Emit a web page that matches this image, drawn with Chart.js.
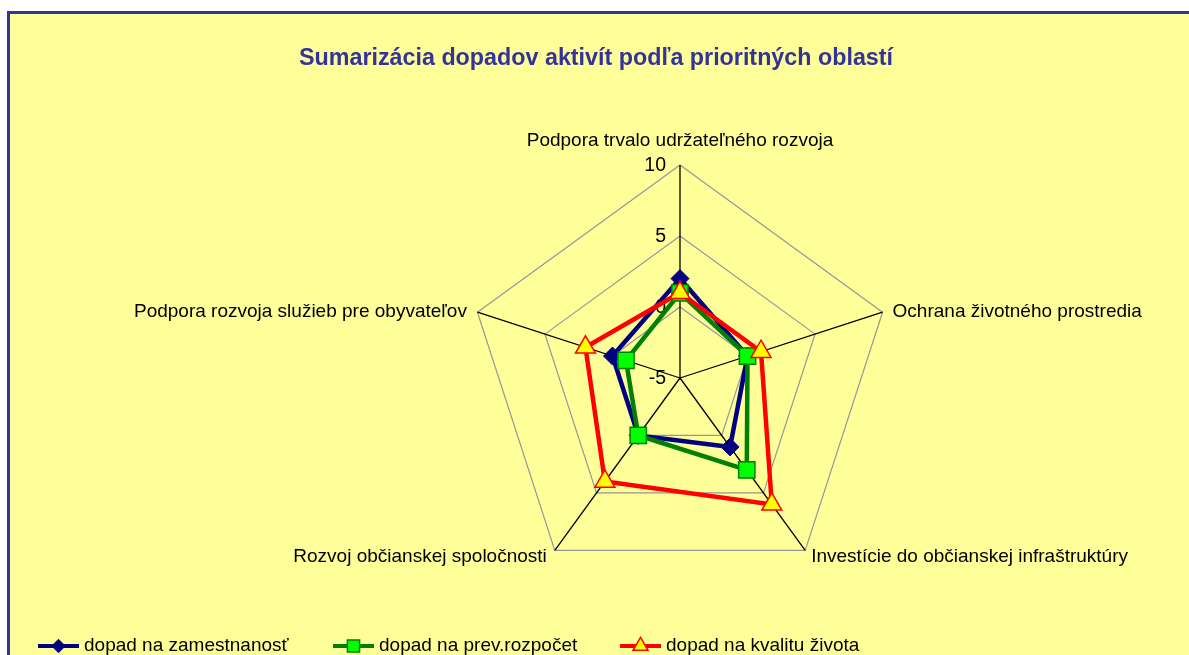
<!DOCTYPE html>
<html><head><meta charset="utf-8">
<script src="https://cdn.jsdelivr.net/npm/chart.js@4.4.0/dist/chart.umd.min.js"></script>
<style>html,body{margin:0;padding:0;background:#fff;overflow:hidden}</style>
</head><body>
<canvas id="c" width="1189" height="655"></canvas>
<script>
const categories = [
  'Podpora trvalo udržateľného rozvoja',
  'Ochrana životného prostredia',
  'Investície do občianskej infraštruktúry',
  'Rozvoj občianskej spoločnosti',
  'Podpora rozvoja služieb pre obyvateľov'
];
const seriesNames = ['dopad na zamestnanosť', 'dopad na prev.rozpočet', 'dopad na kvalitu života'];
const zamestnanost = [2, 0, 1, 0, 0];
const rozpocet = [1, 0, 3, 0, -1];
const kvalita = [1, 1, 6, 4, 2];
const tickValues = [-5, 0, 5, 10];
const titleText = 'Sumarizácia dopadov aktivít podľa prioritných oblastí';

const FONT = '"Liberation Sans", Arial, sans-serif';

const frame = {
  id: 'frame',
  beforeDraw(chart) {
    const ctx = chart.ctx;
    ctx.save();
    ctx.fillStyle = '#ffffff';
    ctx.fillRect(0, 0, chart.width, chart.height);
    ctx.fillStyle = '#333399';
    ctx.fillRect(7, 11, chart.width, chart.height);
    ctx.fillStyle = '#FFFF99';
    ctx.fillRect(10, 14, chart.width, chart.height);
    // title
    ctx.fillStyle = '#333399';
    ctx.font = 'bold 23.3px ' + FONT;
    ctx.textAlign = 'center';
    ctx.textBaseline = 'middle';
    ctx.fillText(titleText, 596, 59);
    ctx.restore();
  }
};

const labelsPlugin = {
  id: 'labelsPlugin',
  beforeDatasetsDraw(chart) {
    const ctx = chart.ctx;
    const s = chart.scales.r;
    ctx.save();
    ctx.fillStyle = '#000';
    ctx.font = '19.5px ' + FONT;
    ctx.textBaseline = 'middle';
    // tick labels
    ctx.textAlign = 'right';
    tickValues.forEach(v => {
      const y = s.yCenter - s.getDistanceFromCenterForValue(v);
      ctx.fillText(String(v), s.xCenter - 14, y + 1);
    });
    // point labels
    ctx.font = '19px ' + FONT;
    const offs = [
      {a: 'center', dx: 0, dy: -24},
      {a: 'left', dx: 10, dy: -0.5},
      {a: 'left', dx: 6, dy: 6.5},
      {a: 'right', dx: -8, dy: 6.5},
      {a: 'right', dx: -10.5, dy: -0.5}
    ];
    categories.forEach((c, i) => {
      const p = s.getPointPosition(i, s.drawingArea);
      ctx.textAlign = offs[i].a;
      ctx.fillText(c, p.x + offs[i].dx, p.y + offs[i].dy);
    });
    ctx.restore();
  },
  afterDraw(chart) {
    const ctx = chart.ctx;
    const items = [
      {x: 38, tx: 84, ds: 0},
      {x: 333, tx: 379, ds: 1},
      {x: 620, tx: 666, ds: 2}
    ];
    const y = 646;
    ctx.save();
    items.forEach((it) => {
      const d = chart.data.datasets[it.ds];
      ctx.strokeStyle = d.borderColor;
      ctx.lineWidth = 4;
      ctx.beginPath();
      ctx.moveTo(it.x, y);
      ctx.lineTo(it.x + 41, y);
      ctx.stroke();
      ctx.fillStyle = d.pointBackgroundColor;
      ctx.strokeStyle = d.pointBorderColor;
      ctx.lineWidth = d.pointBorderWidth;
      Chart.helpers.drawPoint(ctx, {pointStyle: d.pointStyle, radius: d.pointRadius * 0.75, rotation: 0, borderWidth: d.pointBorderWidth}, it.x + 20.5, y);
      ctx.fillStyle = '#000';
      ctx.font = '19px ' + FONT;
      ctx.textAlign = 'left';
      ctx.textBaseline = 'middle';
      ctx.fillText(seriesNames[it.ds], it.tx, y);
    });
    ctx.restore();
  }
};

new Chart(document.getElementById('c'), {
  type: 'radar',
  data: {
    labels: categories,
    datasets: [
      {
        label: seriesNames[0], data: zamestnanost, order: 3,
        borderColor: '#000080', borderWidth: 4.5, fill: false, tension: 0,
        pointStyle: 'rectRot', pointRadius: 9, pointBackgroundColor: '#000080',
        pointBorderColor: '#000080', pointBorderWidth: 1
      },
      {
        label: seriesNames[1], data: rozpocet, order: 2,
        borderColor: '#008000', borderWidth: 4.5, fill: false, tension: 0,
        pointStyle: 'rect', pointRadius: 11.5, pointBackgroundColor: '#00FF00',
        pointBorderColor: '#008000', pointBorderWidth: 1.5
      },
      {
        label: seriesNames[2], data: kvalita, order: 1,
        borderColor: '#FF0000', borderWidth: 4.5, fill: false, tension: 0,
        pointStyle: 'triangle', pointRadius: 11.5, pointBackgroundColor: '#FFFF00',
        pointBorderColor: '#FF0000', pointBorderWidth: 1.5
      }
    ]
  },
  options: {
    responsive: false,
    animation: false,
    events: [],
    layout: {padding: {left: 467, top: 165, right: 296, bottom: 64}},
    plugins: {legend: {display: false}, title: {display: false}, tooltip: {enabled: false}},
    scales: {
      r: {
        min: -5, max: 10,
        ticks: {stepSize: 5, display: false},
        pointLabels: {display: false},
        grid: {color: '#969696', lineWidth: 1.2, circular: false},
        angleLines: {color: '#000000', lineWidth: 1.3}
      }
    }
  },
  plugins: [frame, labelsPlugin]
});
</script>
</body></html>
